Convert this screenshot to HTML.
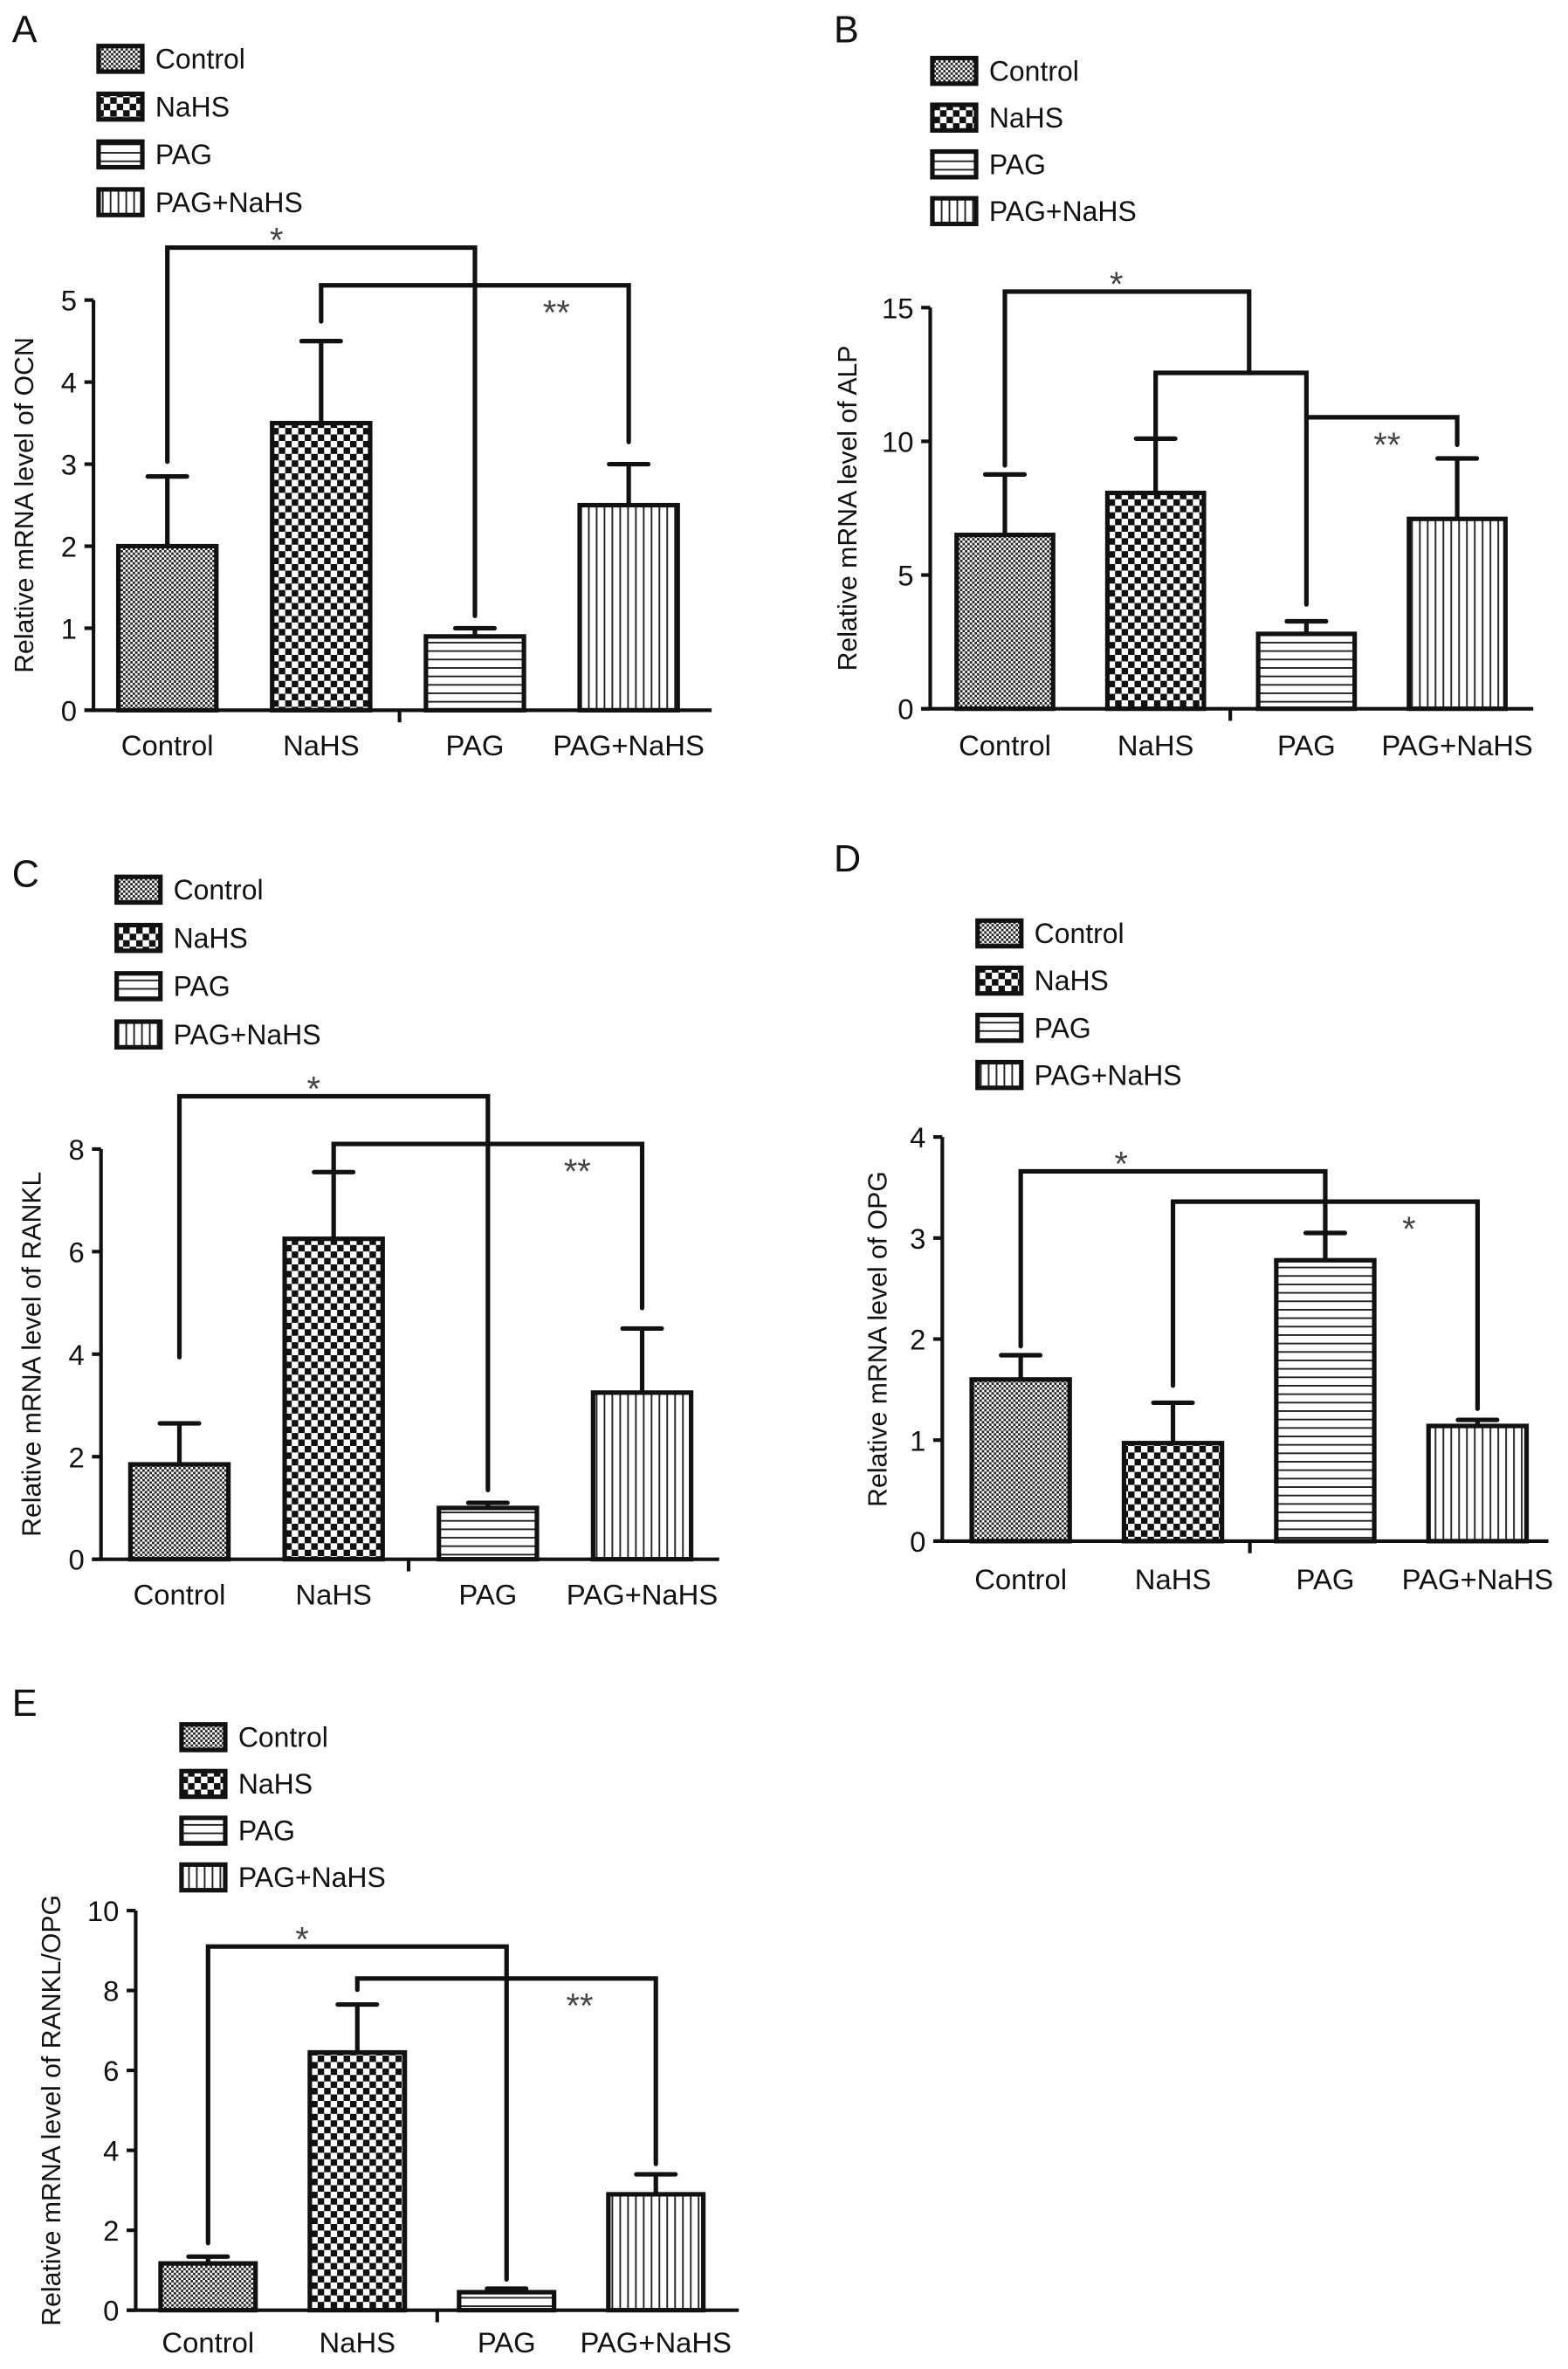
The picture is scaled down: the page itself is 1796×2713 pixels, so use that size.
<!DOCTYPE html>
<html><head><meta charset="utf-8"><title>mRNA levels</title>
<style>html,body{margin:0;padding:0;background:#fff;}svg{display:block;}text{font-family:"Liberation Sans",Arial,sans-serif;fill:#111;}</style>
</head><body>
<svg id="fig" xmlns="http://www.w3.org/2000/svg" width="1796" height="2713" viewBox="0 0 1040 1571" preserveAspectRatio="none">
<defs>
<pattern id="p0" patternUnits="userSpaceOnUse" width="3.2" height="3.2"><rect width="3.2" height="3.2" fill="#fff"/><rect width="1.6" height="1.6" fill="#222"/><rect x="1.6" y="1.6" width="1.6" height="1.6" fill="#222"/></pattern>
<pattern id="p1" patternUnits="userSpaceOnUse" width="8.6" height="8.6"><rect width="8.6" height="8.6" fill="#fff"/><rect width="4.3" height="4.3" fill="#111"/><rect x="4.3" y="4.3" width="4.3" height="4.3" fill="#111"/></pattern>
<pattern id="p2" patternUnits="userSpaceOnUse" width="10" height="5.6"><rect width="10" height="5.6" fill="#fff"/><rect y="0" width="10" height="1.1" fill="#222"/></pattern>
<pattern id="p3" patternUnits="userSpaceOnUse" width="5.2" height="10"><rect width="5.2" height="10" fill="#fff"/><rect x="0" width="1.1" height="10" fill="#222"/></pattern>
</defs>
</svg>
<script>
const categories = ["Control","NaHS","PAG","PAG+NaHS"];
const valsA = [2.0, 3.5, 0.9, 2.5];
const errA  = [2.85, 4.5, 1.0, 3.0];
const valsB = [6.5, 8.07, 2.8, 7.1];
const errB  = [8.76, 10.1, 3.27, 9.36];
const valsC = [1.85, 6.25, 1.0, 3.25];
const errC  = [2.65, 7.55, 1.1, 4.5];
const valsD = [1.6, 0.97, 2.78, 1.14];
const errD  = [1.84, 1.37, 3.05, 1.2];
const valsE = [1.17, 6.45, 0.45, 2.9];
const errE  = [1.34, 7.65, 0.54, 3.4];
const ticksA = [0,1,2,3,4,5];
const ticksB = [0,5,10,15];
const ticksC = [0,2,4,6,8];
const ticksD = [0,1,2,3,4];
const ticksE = [0,2,4,6,8,10];
// brackets: [catLeft, catRight, level, leftEnd, rightEnd, label, labelCat, labelSide]
const bracketsA = [[0,2,5.64,3.03,1.15,"*",0.71,-1],[1,3,5.18,4.74,3.27,"**",2.53,1]];
const bracketsB = [[0,1.62,15.6,9.1,12.56,"*",0.74,-1],[1,2,12.56,10.1,3.9,"",0,0],[2,3,10.9,10.9,9.87,"**",2.535,1]];
const bracketsC = [[0,2,9.03,3.94,1.35,"*",0.87,-1],[1,3,8.1,7.55,4.9,"**",2.58,1]];
const bracketsD = [[0,2,3.66,1.93,3.05,"*",0.66,-1],[1,3,3.36,1.54,1.31,"*",2.55,1]];
const bracketsE = [[0,2,9.1,1.68,0.77,"*",0.63,-1],[1,3,8.3,8.02,3.66,"**",2.49,1]];

const NS="http://www.w3.org/2000/svg";
const svg=document.getElementById('fig');
function mk(tag,attrs,parent){const e=document.createElementNS(NS,tag);for(const k in attrs)e.setAttribute(k,attrs[k]);(parent||svg).appendChild(e);return e;}

const panels=[
 {id:'a',letter:'A',lx:8,ly:28,vals:valsA,errs:errA,ticks:ticksA,br:bracketsA,title:'Relative mRNA level of OCN',ax:62,y0:471,yTop:199,xEnd:472,c0:111,dc:102,bw:68,tick:265,laby:501,tx:22,leg:[64,39,31.7]},
 {id:'b',letter:'B',lx:553,ly:28,vals:valsB,errs:errB,ticks:ticksB,br:bracketsB,title:'Relative mRNA level of ALP',ax:617,y0:470,yTop:204,xEnd:1017,c0:666.5,dc:100,bw:67,tick:816,laby:501,tx:568,leg:[617,47,31]},
 {id:'c',letter:'C',lx:8,ly:588,vals:valsC,errs:errC,ticks:ticksC,br:bracketsC,title:'Relative mRNA level of RANKL',ax:67,y0:1034,yTop:762,xEnd:477,c0:119,dc:102.3,bw:68,tick:271,laby:1064,tx:27,leg:[76,590,32]},
 {id:'d',letter:'D',lx:553,ly:578,vals:valsD,errs:errD,ticks:ticksD,br:bracketsD,title:'Relative mRNA level of OPG',ax:625,y0:1022,yTop:754,xEnd:1027,c0:677,dc:101,bw:68,tick:829,laby:1054,tx:588,leg:[647,619,31.3]},
 {id:'e',letter:'E',lx:8,ly:1138,vals:valsE,errs:errE,ticks:ticksE,br:bracketsE,title:'Relative mRNA level of RANKL/OPG',ax:90,y0:1532,yTop:1267,xEnd:490,c0:138,dc:99,bw:66,tick:290,laby:1560,tx:40,leg:[119,1152,31]}
];
const fills=['url(#p0)','url(#p1)','url(#p2)','url(#p3)'];
const SW=3, COL='#111';

panels.forEach(p=>{
  const g=mk('g',{});
  
  
  const tmax=p.ticks[p.ticks.length-1];
  const Y=v=>p.y0-(v/tmax)*(p.y0-p.yTop);
  const X=c=>p.c0+c*p.dc;
  const L=mk('text',{x:p.lx,y:p.ly,'font-size':25},g);L.textContent=p.letter;
  
  
  categories.forEach((c,i)=>{
    const lg=mk('g',{},g);
    
    
    const cy=p.leg[1]+i*p.leg[2];
    mk('rect',{x:p.leg[0]+1.4,y:cy-8.5,width:29,height:17,fill:fills[i],stroke:COL,'stroke-width':3},lg);
    const t=mk('text',{x:p.leg[0]+39,y:cy+6.5,'font-size':18.5},lg);t.textContent=c;
  });
  const yax=mk('path',{d:`M${p.ax} ${p.yTop} V${p.y0}`,stroke:COL,'stroke-width':2.4,fill:'none'},g);
  
  
  const xax=mk('path',{d:`M${p.ax-6} ${p.y0} H${p.xEnd} M${p.tick} ${p.y0} V${p.y0+8}`,stroke:COL,'stroke-width':2.4,fill:'none'},g);
  
  
  p.ticks.forEach(tv=>{
    const y=Y(tv);
    mk('path',{d:`M${p.ax-6} ${y} H${p.ax}`,stroke:COL,'stroke-width':2.4},g);
    const t=mk('text',{x:p.ax-11,y:y+7,'font-size':19,'text-anchor':'end'},g);t.textContent=tv;
    
    
  });
  const yc=(p.y0+p.yTop)/2;
  const tt=mk('text',{x:p.tx,y:yc,'font-size':17.5,'text-anchor':'middle',transform:`rotate(-90 ${p.tx} ${yc})`},g);
  tt.textContent=p.title;
  
  
  p.vals.forEach((v,i)=>{
    const cx=X(i), yv=Y(v), ye=Y(p.errs[i]);
    mk('path',{d:`M${cx} ${yv} V${ye} M${cx-13} ${ye} H${cx+13}`,stroke:COL,'stroke-width':SW,'stroke-linecap':'round'},g);
    const r=mk('rect',{x:cx-p.bw/2+1.5,y:yv,width:p.bw-3,height:p.y0-yv,fill:fills[i],stroke:COL,'stroke-width':SW},g);
    
    
    const cl=mk('text',{x:cx,y:p.laby,'font-size':19,'text-anchor':'middle'},g);cl.textContent=categories[i];
    
    
  });
  p.br.forEach(b=>{
    const x1=X(b[0]),x2=X(b[1]),yl=Y(b[2]);
    const pa=mk('path',{d:`M${x1} ${Y(b[3])} V${yl} H${x2} V${Y(b[4])}`,stroke:COL,'stroke-width':SW,fill:'none','stroke-linecap':'round'},g);
    
    
    if(b[5]){
      const cyS=yl+(b[7]<0?-10:13);
      const st=mk('text',{x:X(b[6]),y:cyS+13,'font-size':23,'text-anchor':'middle',style:'fill:#444'},g);
      st.textContent=b[5];
      
      
    }
  });
});
</script>
</body></html>
